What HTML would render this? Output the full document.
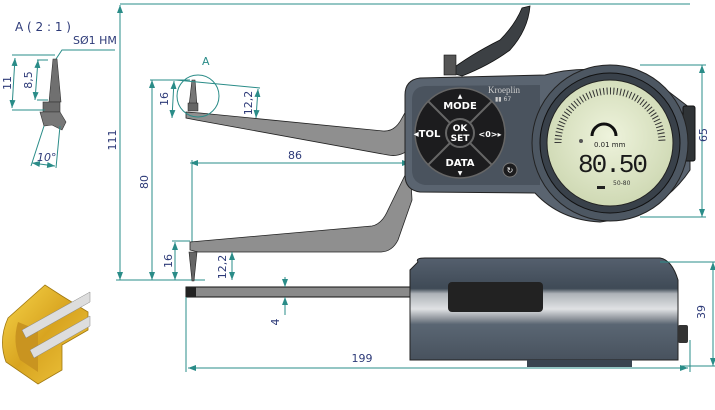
<!DOCTYPE html>
<html><head><meta charset="utf-8"><style>
html,body{margin:0;padding:0;background:#fff;width:715px;height:410px;overflow:hidden}
svg{display:block;font-size:11px}
text{font-family:"DejaVu Sans","Liberation Sans",sans-serif;fill:#2d3a78}
.d{stroke:#2a8c88;stroke-width:1;fill:none}
</style></head><body>
<svg width="715" height="410" viewBox="0 0 715 410" xmlns="http://www.w3.org/2000/svg" font-size="11">
<defs>
<marker id="a" viewBox="0 0 8 6" refX="8" refY="3" markerWidth="8" markerHeight="6" orient="auto-start-reverse"><path d="M0,0L8,3L0,6z" fill="#2a8c88"/></marker>
<radialGradient id="lcd" cx="50%" cy="45%" r="55%"><stop offset="0" stop-color="#eef3dc"/><stop offset="1" stop-color="#cfd9b4"/></radialGradient>
<linearGradient id="side" x1="0" y1="0" x2="0" y2="1"><stop offset="0" stop-color="#55606e"/><stop offset="0.3" stop-color="#3f4a56"/><stop offset="0.35" stop-color="#aeb3b8"/><stop offset="0.5" stop-color="#e0e2e4"/><stop offset="0.6" stop-color="#8b9198"/><stop offset="0.65" stop-color="#5a6673"/><stop offset="1" stop-color="#48525e"/></linearGradient>
<linearGradient id="gold" x1="0" y1="0" x2="1" y2="1"><stop offset="0" stop-color="#f7d54a"/><stop offset="0.5" stop-color="#d8a420"/><stop offset="1" stop-color="#f0c840"/></linearGradient>
</defs>

<!-- detail A -->
<text x="15" y="31" font-size="12">A ( 2 : 1 )</text>
<text x="73" y="44" font-size="11">SØ1 HM</text>
<path class="d" d="M115,50 H62 L56,59"/>
<path d="M53,59 L57,59 L61,102 L49,102 Z" fill="#707070" stroke="#333" stroke-width="0.6"/>
<rect x="43" y="102" width="17" height="10" fill="#6a6a6a" stroke="#333" stroke-width="0.6"/>
<path d="M40,112 L60,112 L66,122 L62,130 L52,125 L44,126 Z" fill="#777" stroke="#333" stroke-width="0.6"/>
<path class="d" d="M12,55 H55 M12,110 H45 M37,60 H48 M37,100 H48"/>
<line class="d" x1="15" y1="58" x2="12" y2="108" marker-start="url(#a)" marker-end="url(#a)"/>
<line class="d" x1="38" y1="60" x2="35" y2="100" marker-start="url(#a)" marker-end="url(#a)"/>
<text transform="translate(11,83) rotate(-90)" text-anchor="middle">11</text>
<text transform="translate(32,80) rotate(-90)" text-anchor="middle">8,5</text>
<path class="d" d="M44,126 L31,166 M60,126 L56,168"/>
<line class="d" x1="32" y1="163" x2="55" y2="166" marker-start="url(#a)" marker-end="url(#a)"/>
<text x="37" y="161" font-style="italic">10°</text>

<!-- 111 & 80 -->
<line class="d" x1="120" y1="4" x2="690" y2="4"/>
<line class="d" x1="120" y1="5" x2="120" y2="280" marker-start="url(#a)" marker-end="url(#a)"/>
<path class="d" d="M116,280 H205"/>
<text transform="translate(116,140) rotate(-90)" text-anchor="middle">111</text>
<line class="d" x1="152" y1="80" x2="152" y2="280" marker-start="url(#a)" marker-end="url(#a)"/>
<path class="d" d="M150,80 H190"/>
<text transform="translate(148,182) rotate(-90)" text-anchor="middle">80</text>

<!-- upper arm -->
<path d="M186,112 L200,113 L383,131 Q395,132 402,118 L412,100 L414,145 Q402,158 388,155 L196,120 L186,118 Z" fill="#8f8f8f" stroke="#222" stroke-width="0.8"/>
<path d="M192,80 L195,80 L197,106 L189,106 Z" fill="#777" stroke="#222" stroke-width="0.6"/>
<rect x="188" y="103" width="10" height="8" fill="#666" stroke="#222" stroke-width="0.5"/>
<circle cx="198" cy="96" r="21" class="d"/>
<text x="202" y="65" style="fill:#2a8c88">A</text>
<path class="d" d="M176,80 L260,88"/>
<line class="d" x1="174" y1="81" x2="172" y2="118" marker-start="url(#a)" marker-end="url(#a)"/>
<line class="d" x1="258" y1="89" x2="256" y2="118" marker-start="url(#a)" marker-end="url(#a)"/>
<text transform="translate(168,99) rotate(-90)" text-anchor="middle">16</text>
<text transform="translate(252,103) rotate(-90)" text-anchor="middle">12,2</text>

<!-- 86 -->
<line class="d" x1="190" y1="163" x2="410" y2="163" marker-start="url(#a)" marker-end="url(#a)"/>
<line class="d" x1="192" y1="160" x2="192" y2="245"/>
<text x="295" y="159" text-anchor="middle">86</text>

<!-- lower arm -->
<path d="M190,242 L372,226 Q382,224 388,210 L410,165 L412,200 L398,240 Q392,252 380,252 L198,252 L190,250 Z" fill="#8f8f8f" stroke="#222" stroke-width="0.8"/>
<path d="M189,252 L197,252 L194,281 L192,281 Z" fill="#666" stroke="#222" stroke-width="0.6"/>
<line class="d" x1="175" y1="242" x2="175" y2="280" marker-start="url(#a)" marker-end="url(#a)"/>
<line class="d" x1="232" y1="252" x2="232" y2="280" marker-start="url(#a)" marker-end="url(#a)"/>
<path class="d" d="M172,241 H190"/>
<text transform="translate(172,261) rotate(-90)" text-anchor="middle">16</text>
<text transform="translate(226,267) rotate(-90)" text-anchor="middle">12,2</text>

<!-- lever -->
<path d="M448,72 Q470,55 500,40 Q515,25 522,8 L530,6 Q528,30 510,50 Q490,65 462,76 Z" fill="#3c4044" stroke="#111" stroke-width="0.8"/>
<rect x="444" y="55" width="12" height="20" fill="#555" stroke="#111" stroke-width="0.6"/>

<!-- body -->
<path d="M420,78 L545,75 Q600,60 660,85 L690,108 L690,170 Q660,215 600,222 Q560,220 535,193 L420,192 Q405,190 405,175 L405,95 Q405,80 420,78Z" fill="#5a6470" stroke="#222" stroke-width="1"/>
<path d="M425,86 L540,85 L540,185 L425,185 Q412,183 412,170 L412,100 Q412,87 425,86Z" fill="#4a535e"/>
<rect x="683" y="106" width="12" height="55" rx="2" fill="#2f3336" stroke="#111"/>
<circle cx="610" cy="143" r="78" fill="#4d5762" stroke="#222"/>
<circle cx="610" cy="143" r="70" fill="#39414a" stroke="#111"/>
<circle cx="610" cy="143" r="63" fill="url(#lcd)" stroke="#222"/>
<path d="M558,143 A52,52 0 0 1 662,143" fill="none" stroke="#333" stroke-dasharray="1 2.4" stroke-width="7"/>
<path d="M592,136 A12,12 0 0 1 616,136" fill="none" stroke="#111" stroke-width="3"/>
<circle cx="581" cy="141" r="2" fill="#555"/>
<text x="594" y="147" font-size="7" style="fill:#222">0.01 mm</text>
<text x="578" y="172" font-size="26" font-family="Liberation Mono" style="fill:#1a1a1a;font-family:'Liberation Mono',monospace;letter-spacing:-2px">80.50</text>
<text x="613" y="185" font-size="6" style="fill:#333">50-80</text>
<rect x="597" y="186" width="8" height="3" fill="#222"/>
<!-- keypad -->
<circle cx="460" cy="133" r="45" fill="#1c1c1e" stroke="#666" stroke-width="1.5"/>
<path d="M428,101 L492,165 M492,101 L428,165" stroke="#666" stroke-width="2"/>
<circle cx="460" cy="133" r="14" fill="#1c1c1e" stroke="#666" stroke-width="2"/>
<text x="460" y="109" text-anchor="middle" style="fill:#fff" font-weight="bold" font-size="10">MODE</text>
<text x="460" y="166" text-anchor="middle" style="fill:#fff" font-weight="bold" font-size="10">DATA</text>
<text x="427" y="137" text-anchor="middle" style="fill:#fff" font-weight="bold" font-size="10">◂TOL</text>
<text x="490" y="137" text-anchor="middle" style="fill:#fff" font-weight="bold" font-size="8">&lt;0&gt;▸</text>
<text x="460" y="131" text-anchor="middle" style="fill:#fff" font-weight="bold" font-size="9">OK</text>
<text x="460" y="141" text-anchor="middle" style="fill:#fff" font-weight="bold" font-size="9">SET</text>
<text x="460" y="98" text-anchor="middle" style="fill:#fff" font-size="6">▲</text>
<text x="460" y="175" text-anchor="middle" style="fill:#fff" font-size="6">▼</text>
<circle cx="510" cy="170" r="7" fill="#1c1c1e" stroke="#777"/>
<text x="510" y="173" text-anchor="middle" font-size="8" style="fill:#fff">↻</text>
<text x="488" y="93" font-size="9" style="fill:#ccc;font-family:'Liberation Serif',serif">Kroeplin</text>
<text x="495" y="101" font-size="6" style="fill:#ccc">▮▮ 67</text>

<!-- 65 -->
<path class="d" d="M640,65 H706 M640,217 H706"/>
<line class="d" x1="702" y1="65" x2="702" y2="217" marker-start="url(#a)" marker-end="url(#a)"/>
<text transform="translate(707,135) rotate(-90)" text-anchor="middle">65</text>

<!-- side view -->
<rect x="186" y="287" width="250" height="10" fill="#8a8a8a" stroke="#111"/>
<rect x="186" y="287" width="10" height="10" fill="#222"/>
<path d="M418,262 Q415,258 425,258 L660,258 Q672,260 678,280 L678,360 L410,360 L410,270 Z" fill="url(#side)" stroke="#222"/>
<rect x="448" y="282" width="95" height="30" rx="4" fill="#222"/>
<rect x="527" y="360" width="105" height="7" fill="#3a4450"/>
<rect x="678" y="325" width="10" height="18" rx="2" fill="#333"/>
<line class="d" x1="285" y1="277" x2="285" y2="287" marker-end="url(#a)"/>
<line class="d" x1="285" y1="315" x2="285" y2="297" marker-end="url(#a)"/>
<text transform="translate(279,322) rotate(-90)" text-anchor="middle">4</text>
<path class="d" d="M660,262 H715 M680,366 H715"/>
<line class="d" x1="713" y1="262" x2="713" y2="366" marker-start="url(#a)" marker-end="url(#a)"/>
<text transform="translate(705,312) rotate(-90)" text-anchor="middle">39</text>
<line class="d" x1="186" y1="297" x2="186" y2="372"/>
<line class="d" x1="690" y1="340" x2="690" y2="372"/>
<line class="d" x1="188" y1="368" x2="688" y2="368" marker-start="url(#a)" marker-end="url(#a)"/>
<text x="362" y="362" text-anchor="middle">199</text>

<!-- gold ring -->
<path d="M8,318 Q-2,340 6,362 L38,384 L62,370 L62,345 L88,330 L88,312 L62,296 L45,285 Z" fill="url(#gold)" stroke="#a07810" stroke-width="0.8"/>
<path d="M18,322 Q12,342 20,360 L38,372 L38,330 Z" fill="#c99420"/>
<path d="M22,330 L90,292 L90,302 L26,338 Z" fill="#ddd" stroke="#888" stroke-width="0.5"/>
<path d="M30,350 L90,316 L90,326 L34,358 Z" fill="#ddd" stroke="#888" stroke-width="0.5"/>
</svg>
</body></html>
